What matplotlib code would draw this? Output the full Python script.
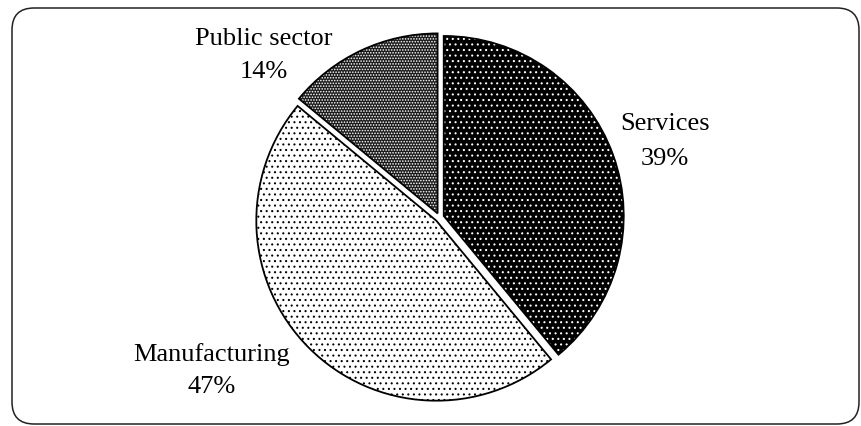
import matplotlib
matplotlib.use("Agg")
import matplotlib.pyplot as plt
from matplotlib.patches import FancyBboxPatch

plt.rcParams['font.family'] = ['Liberation Serif', 'DejaVu Serif']
plt.rcParams['hatch.linewidth'] = 0.75

# ---- data ----
categories = ["Services", "Manufacturing", "Public sector"]
shares = [39, 47, 14]
face_colors = ["#000000", "#ffffff", "#1c1c1c"]
hatch_colors = ["#ffffff", "#000000", "#ffffff"]
hatches = ["...", "...", "......"]

W, H = 861, 426
fig = plt.figure(figsize=(W / 100, H / 100), dpi=100)
ax = fig.add_axes([0, 0, 1, 1])

def py(y):
    return H - y

center = (439.5, py(217.5))
radius = 180
explode = [4.5] * len(shares)   # offset in pixels (data units)

# filled, hatched wedges
wedges, _ = ax.pie(shares, startangle=90, counterclock=False, center=center,
                   radius=radius, explode=explode, frame=True,
                   wedgeprops=dict(linewidth=0))
for w, fc, hc, h in zip(wedges, face_colors, hatch_colors, hatches):
    w.set_facecolor(fc)
    w.set_edgecolor(hc)
    w.set_hatch(h)
    w.set_linewidth(0)

# outlines
outl, _ = ax.pie(shares, startangle=90, counterclock=False, center=center,
                 radius=radius, explode=explode, frame=True,
                 wedgeprops=dict(fill=False, edgecolor="black", linewidth=1.3))

# labels (pixel positions of each line's baseline)
label_pos = {
    "Services": (665, 130, 165),
    "Manufacturing": (212, 361, 393),
    "Public sector": (264, 45, 78),
}
for cat, val in zip(categories, shares):
    x, y1, y2 = label_pos[cat]
    ax.text(x, py(y1), cat, ha="center", va="baseline", fontsize=19)
    ax.text(x, py(y2), f"{val}%", ha="center", va="baseline", fontsize=19)

# rounded border
x0, y0, x1, y1 = 12, 8, 859, 424
box = FancyBboxPatch((x0, py(y1)), x1 - x0, y1 - y0,
                     boxstyle="round,pad=0,rounding_size=22",
                     fill=False, edgecolor="#222222", linewidth=1.1)
ax.add_patch(box)

ax.set_xlim(0, W)
ax.set_ylim(0, H)
ax.set_aspect("auto")
ax.axis("off")

fig.savefig("out.png", dpi=100, facecolor="white")
